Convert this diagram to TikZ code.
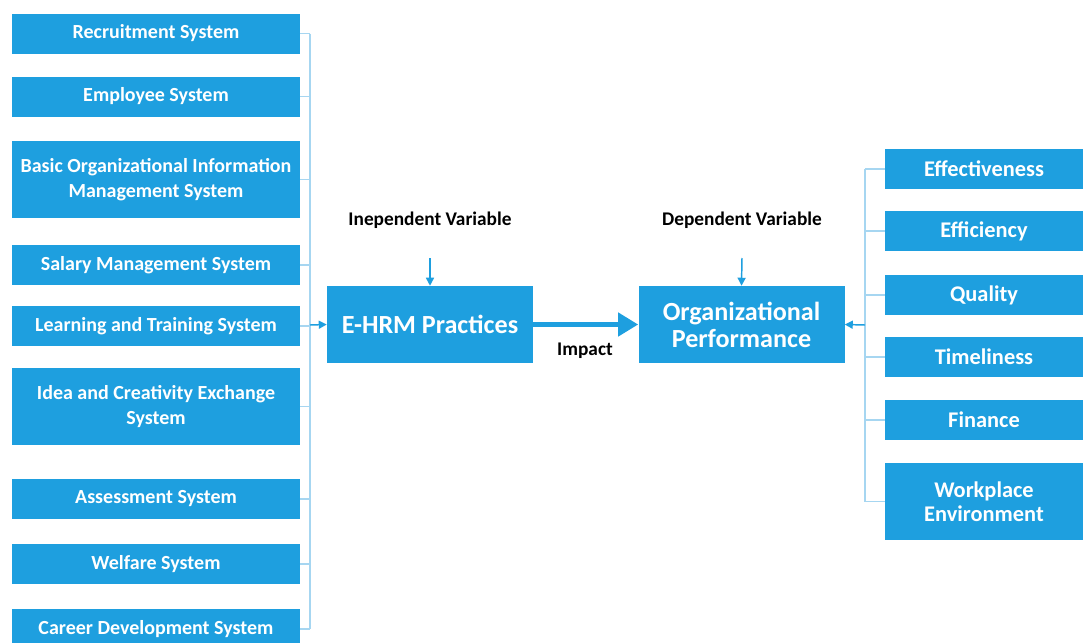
\documentclass[tikz,border=0pt]{standalone}
\usepackage{fontspec}
\setmainfont{Carlito}
\usetikzlibrary{arrows.meta}
\definecolor{boxblue}{HTML}{1E9FDF}
\definecolor{linkblue}{HTML}{A6D6F1}
\tikzset{
  x=0.75pt, y=-0.75pt,
  lbox/.style={fill=boxblue, text=white, font=\fontsize{15}{18.75}\selectfont\bfseries,
    minimum width=216pt, minimum height=30pt, inner sep=0pt, align=center},
  rbox/.style={fill=boxblue, text=white, font=\fontsize{16.8}{18}\selectfont\bfseries,
    minimum width=148.5pt, minimum height=30pt, inner sep=0pt, align=center},
  cbox/.style={fill=boxblue, text=white, font=\fontsize{19.6}{20.25}\selectfont\bfseries,
    minimum width=154.5pt, minimum height=57.75pt, inner sep=0pt, align=center},
  lbl/.style={text=black, font=\fontsize{14.5}{16}\selectfont\bfseries, inner sep=0pt},
  link/.style={draw=linkblue, line width=1.1pt},
  smallarrow/.style={draw=boxblue, line width=1.1pt, -{Triangle[length=6pt,width=6pt]}},
  bigarrow/.style={draw=boxblue, line width=3.75pt, -{Triangle[length=15pt,width=17pt]}},
}
\begin{document}
\begin{tikzpicture}
\clip (0,0) rectangle (1083,643);
\fill[white] (0,0) rectangle (1083,643);

% left column
\node[lbox] (r1) at (156,33.5) {Recruitment System};
\node[lbox] (r2) at (156,96.5) {Employee System};
\node[lbox, minimum height=57.75pt] (r3) at (156,179.5) {Basic Organizational Information\\Management System};
\node[lbox] (r4) at (156,265) {Salary Management System};
\node[lbox] (r5) at (156,326) {Learning and Training System};
\node[lbox, minimum height=57.75pt] (r6) at (156,406.5) {Idea and Creativity Exchange\\System};
\node[lbox] (r7) at (156,499) {Assessment System};
\node[lbox] (r8) at (156,564) {Welfare System};
\node[lbox] (r9) at (156,629) {Career Development System};

% center
\node[cbox] (ehrm) at (430,324.5) {E-HRM Practices};
\node[cbox] (op) at (741.5,324.5) {Organizational\\Performance};

\node[lbl] (iv) at (430,220) {Inependent Variable};
\node[lbl] (dv) at (742,220) {Dependent Variable};
\node[lbl] (imp) at (585,351) {Impact};

\coordinate (ivs) at (430,258);
\coordinate (dvs) at (742,258);
\draw[smallarrow] (ivs) -- (ehrm.north);
\draw[smallarrow] (dvs) -- (op.north);
\draw[bigarrow] (ehrm.east) -- (op.west);

% right column
\node[rbox] (e1) at (984,169) {Effectiveness};
\node[rbox] (e2) at (984,231) {Efficiency};
\node[rbox] (e3) at (984,295) {Quality};
\node[rbox] (e4) at (984,357) {Timeliness};
\node[rbox] (e5) at (984,420) {Finance};
\node[rbox, minimum height=57.75pt] (e6) at (984,501.5) {Workplace\\Environment};

% left bus
\coordinate (lbus) at (310,325);
\foreach \n in {r1,r2,r3,r4,r5,r6,r7,r8,r9}
  \draw[link] (\n.east) -- (\n.east -| lbus);
\draw[link] (r1.east -| lbus) -- (r9.east -| lbus);
\draw[smallarrow] (lbus) -- (ehrm.west);

% right bus
\coordinate (rbus) at (865,325);
\foreach \n in {e1,e2,e3,e4,e5,e6}
  \draw[link] (\n.west) -- (\n.west -| rbus);
\draw[link] (e1.west -| rbus) -- (e6.west -| rbus);
\draw[smallarrow] (rbus) -- (op.east);
\end{tikzpicture}
\end{document}
